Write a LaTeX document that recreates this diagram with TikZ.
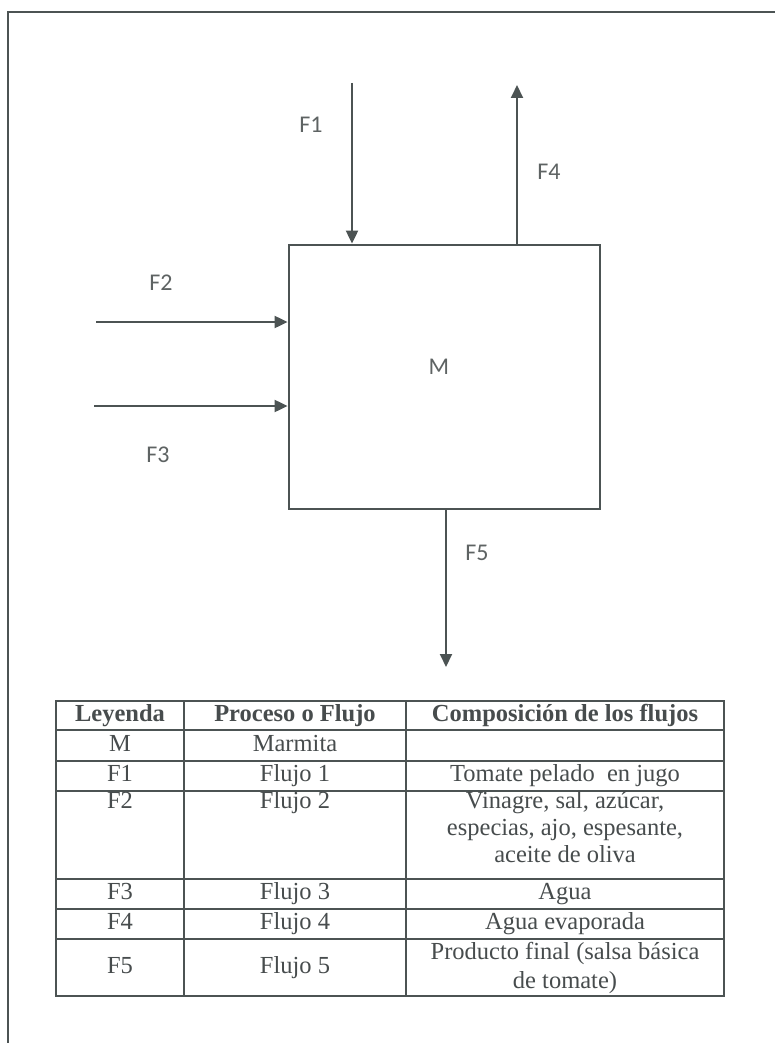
\documentclass[tikz,border=0pt]{standalone}
\usepackage{fontspec}
\setmainfont{Liberation Serif}
\newfontfamily\labfont{Carlito}
\usetikzlibrary{arrows.meta}
\definecolor{ink}{HTML}{4C5353}
\definecolor{txt}{HTML}{5E6363}
\definecolor{tabtxt}{HTML}{474C4D}
\tikzset{
  frameline/.style={draw=ink, line width=2pt},
  flow/.style={draw=ink, line width=2pt, -{Triangle[length=13pt,width=12pt]}},
  unit/.style={draw=ink, line width=2.8pt, minimum width=311pt, minimum height=264pt, inner sep=0pt},
  flowlabel/.style={text=txt, font=\labfont\fontsize{24}{28}\selectfont, inner sep=0pt},
  grid/.style={draw=ink, line width=1.8pt},
  cell/.style={text=tabtxt, font=\fontsize{24.5}{28}\selectfont, inner sep=0pt, align=center, anchor=center, text height=16pt, text depth=5pt},
  multicell/.style={text=tabtxt, font=\fontsize{24.5}{28}\selectfont, inner sep=0pt, align=center, anchor=center},
  headcell/.style={cell, font=\bfseries\fontsize{24.5}{28}\selectfont},
}
\begin{document}
\begin{tikzpicture}[x=1pt, y=-1pt]
\useasboundingbox (0,0) rectangle (775,1043);
\fill[white] (0,0) rectangle (775,1043);

% outer page frame (only top and left edges fall inside the page)
\draw[frameline] (775,12) -- (8,12) -- (8,1043);

% the kettle
\node[unit] (box) at (444.5,377) {};
\node[flowlabel] (lm) at (439,367) {M};

% streams
\coordinate (f1s) at (352,83);
\coordinate (f4e) at (517,85);
\coordinate (f2s) at (96,322);
\coordinate (f3s) at (94,406);
\coordinate (f5e) at (446,667);

\draw[flow] (f1s) -- (f1s |- box.north);
\draw[flow] (f4e |- box.north) -- (f4e);
\draw[flow] (f2s) -- (f2s -| box.west);
\draw[flow] (f3s) -- (f3s -| box.west);
\draw[flow] (f5e |- box.south) -- (f5e);

\node[flowlabel] (l1) at (311,125) {F1};
\node[flowlabel] (l4) at (549,172) {F4};
\node[flowlabel] (l2) at (161,283) {F2};
\node[flowlabel] (l3) at (158,455) {F3};
\node[flowlabel] (l5) at (477,553) {F5};

% legend table: rules
\draw[grid] (56,701) rectangle (724,996);
\foreach \yy in {730,761,791,879,909,939} \draw[grid] (56,\yy) -- (724,\yy);
\draw[grid] (184,701) -- (184,996);
\draw[grid] (406,701) -- (406,996);

% legend table: header
\node[headcell] (h1) at (120,715.5) {Leyenda};
\node[headcell] (h2) at (295,715.5) {Proceso o Flujo};
\node[headcell] (h3) at (565,715.5) {Composición de los flujos};

% legend table: rows
\node[cell] (a1) at (120,745.5) {M};
\node[cell] (b1) at (295,745.5) {Marmita};

\node[cell] (a2) at (120,776) {F1};
\node[cell] (b2) at (295,776) {Flujo 1};
\node[cell] (c2) at (565,776) {Tomate pelado \ en jugo};

\node[cell] (a3) at (120,803) {F2};
\node[cell] (b3) at (295,803) {Flujo 2};
\node[multicell, font=\fontsize{24.5}{27}\selectfont] (c3) at (565,827) {Vinagre, sal, azúcar,\\especias, ajo, espesante,\\aceite de oliva};

\node[cell] (a4) at (120,894) {F3};
\node[cell] (b4) at (295,894) {Flujo 3};
\node[cell] (c4) at (565,894) {Agua};

\node[cell] (a5) at (120,924) {F4};
\node[cell] (b5) at (295,924) {Flujo 4};
\node[cell] (c5) at (565,924) {Agua evaporada};

\node[cell] (a6) at (120,967.5) {F5};
\node[cell] (b6) at (295,967.5) {Flujo 5};
\node[multicell, font=\fontsize{24.5}{29}\selectfont] (c6) at (565,968) {Producto final (salsa básica\\de tomate)};
\end{tikzpicture}
\end{document}
